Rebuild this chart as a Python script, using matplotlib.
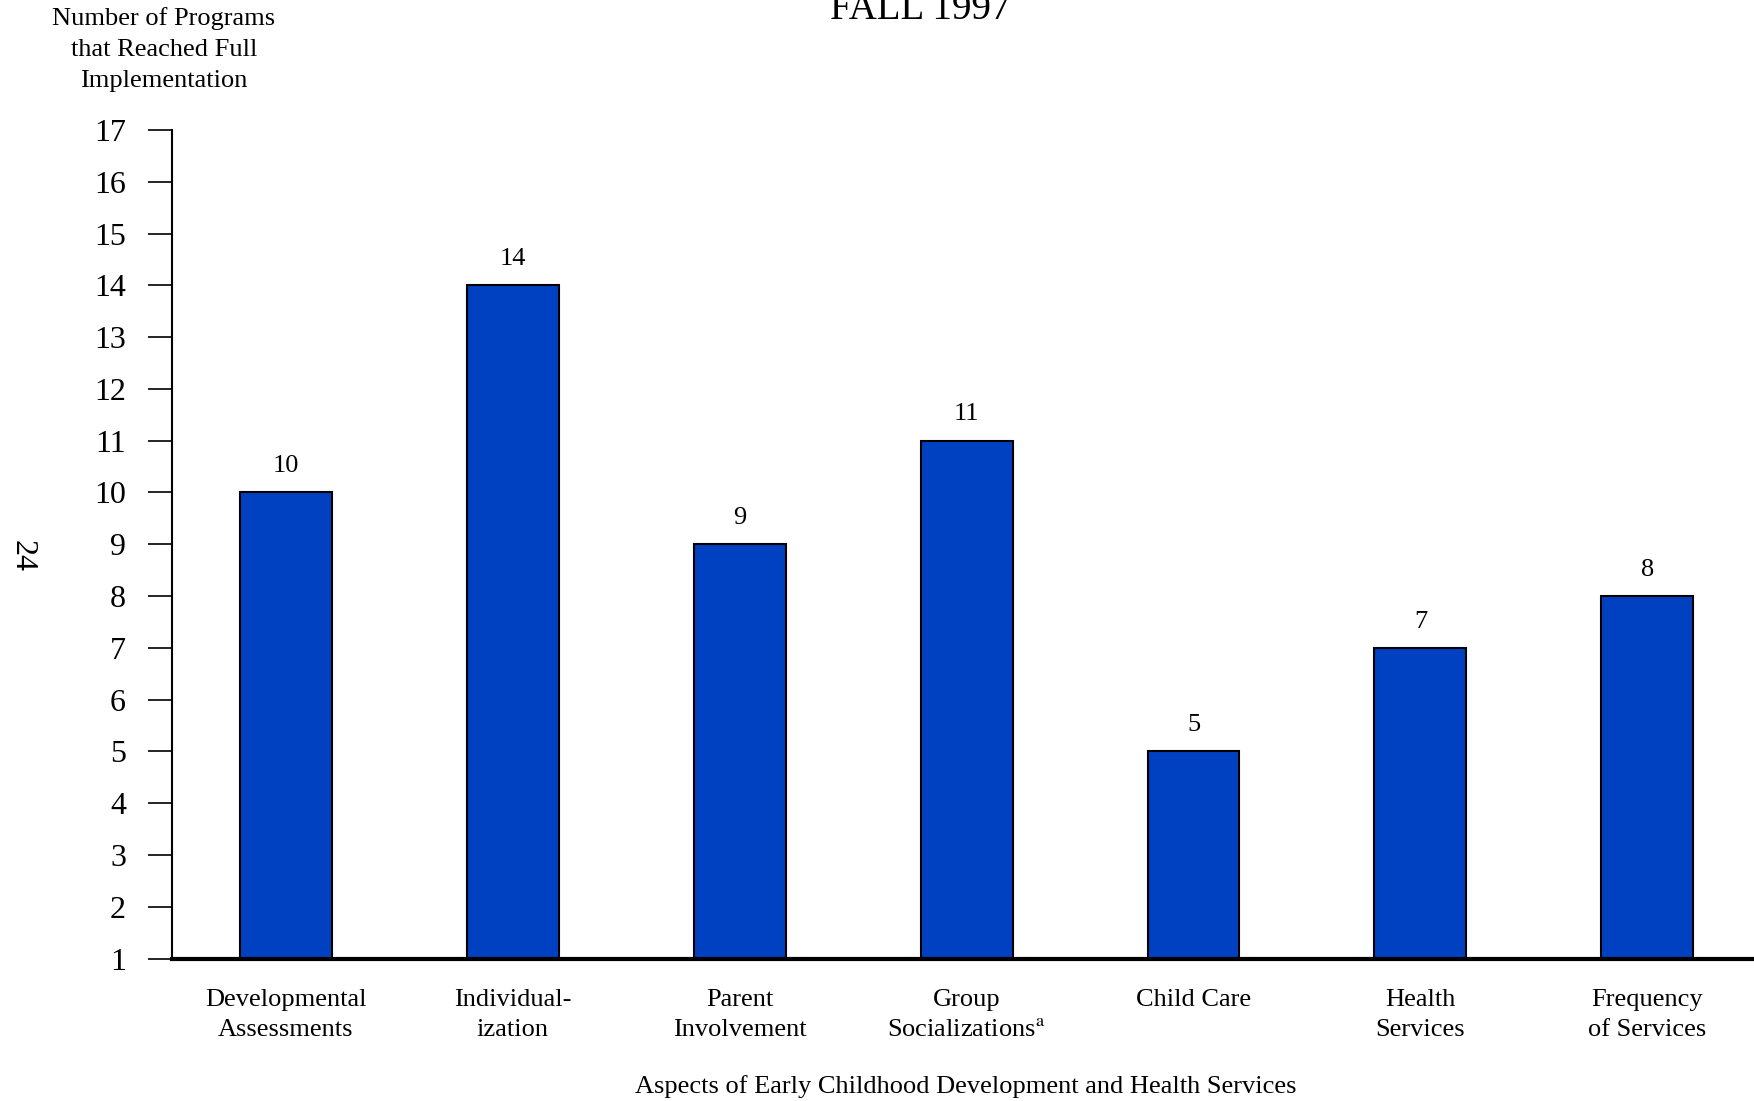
import numpy as np
import matplotlib
matplotlib.use('Agg')
import matplotlib.pyplot as plt

plt.rcParams['font.family'] = ['Liberation Serif', 'DejaVu Serif']
plt.rcParams['mathtext.fontset'] = 'stix'

categories = ['Developmental\nAssessments', 'Individual-\nization', 'Parent\nInvolvement',
              'Group\nSocializations$^{\\mathrm{a}}$', 'Child Care\n', 'Health\nServices',
              'Frequency\nof Services']
values = [10, 14, 9, 11, 5, 7, 8]
yticks = list(range(1, 18))

fig = plt.figure(figsize=(17.54, 11.01), dpi=100)
ax = fig.add_axes([0.098, 0.1293, 0.902, 0.7527])

x = np.arange(len(values))
ax.bar(x, values, width=0.405, color='#0041c1', edgecolor='black', linewidth=1.5, zorder=2)
for xi, v in zip(x, values):
    ax.annotate(str(v), (xi, v), xytext=(0, 11), textcoords='offset points',
                ha='center', va='bottom', fontsize=19)

ax.set_ylim(1, 17)
ax.set_xlim(-0.502, 6.47)
ax.set_yticks(yticks)
ax.tick_params(axis='y', labelsize=23, length=17, width=1.2, pad=16)
ax.set_xticks(x)
ax.set_xticklabels(categories, fontsize=19, linespacing=1.47)
ax.tick_params(axis='x', length=0, pad=22)

ax.spines['top'].set_visible(False)
ax.spines['right'].set_visible(False)
ax.spines['left'].set_linewidth(1.5)
ax.spines['bottom'].set_linewidth(3)
ax.spines['bottom'].set_zorder(3)

fig.text(0.5505, 0.0135, 'Aspects of Early Childhood Development and Health Services',
         ha='center', va='center', fontsize=19)
fig.text(0.0935, 0.955, 'Number of Programs\nthat Reached Full\nImplementation',
         ha='center', va='center', fontsize=19, linespacing=1.52)
fig.text(0.5245, 0.991, 'FALL 1997', ha='center', va='center', fontsize=28)
fig.text(0.0125, 0.495, '24', ha='center', va='center', fontsize=23, rotation=-90)

fig.savefig('out.png', dpi=100)
